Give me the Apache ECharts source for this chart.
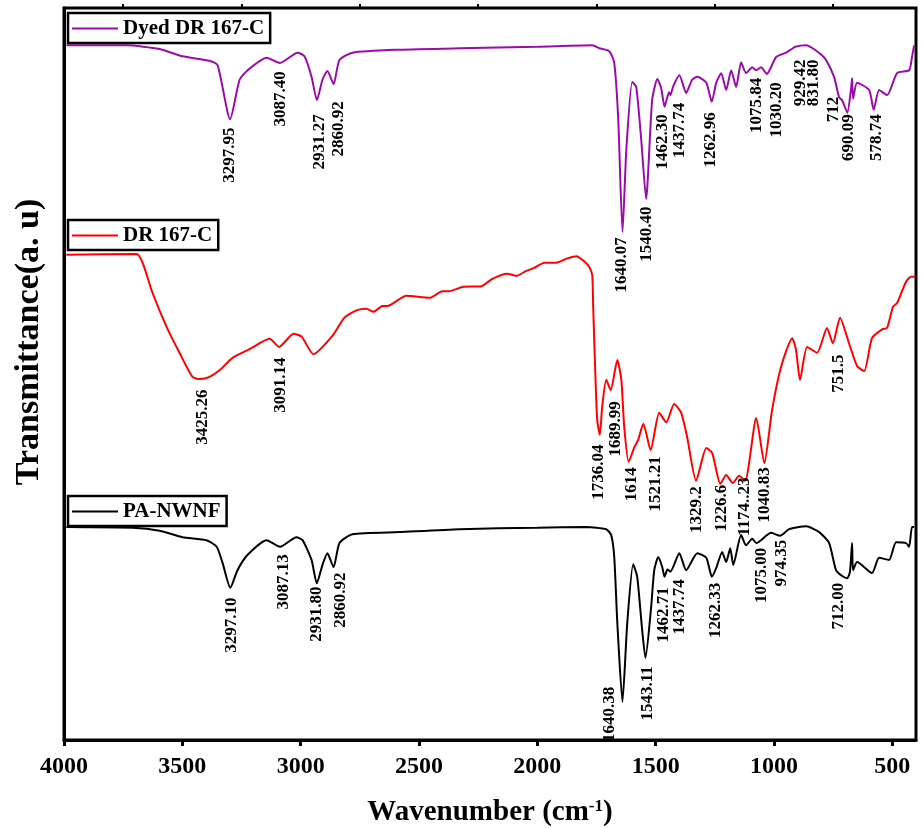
<!DOCTYPE html>
<html>
<head>
<meta charset="utf-8">
<script src="https://cdn.jsdelivr.net/npm/echarts@6/dist/echarts.min.js"></script>
<style>
  html, body { margin: 0; padding: 0; background: #fff; }
  #chart { width: 921px; height: 828px; }
</style>
</head>
<body>
<div id="chart"></div>
<script>
// FTIR spectra: [wavenumber (cm-1), transmittance (a.u., offset per trace)]
const dyedSpectrum = [
  [3990,94.9],[3735,94.9],[3596,94.4],[3499,93.4],[3385,92.8],[3351,92.2],[3297.95,84.8],[3258,90.2],
  [3224,91.5],[3144,93.2],[3087.4,92.5],[3013,93.9],[2984,93.4],[2954,90.6],[2931.27,87.4],[2908,90.2],
  [2887,91.4],[2860.92,89.6],[2836,92.9],[2781,93.9],[2583,94.3],[2329,94.5],[2000,94.7],[1768,94.9],
  [1738,94.5],[1696,94.1],[1675,92.5],[1658,84.7],[1640.07,69.4],[1624,80.6],[1599,89.9],[1582,89.2],
  [1561,82.0],[1540.4,73.9],[1515,87.4],[1493,90.3],[1477,89.1],[1462.3,86.5],[1451,87.8],[1443,88.5],
  [1437.74,88.1],[1426,89.3],[1400,90.8],[1371,88.4],[1346,90.2],[1324,90.6],[1286,89.8],[1262.96,87.2],
  [1244,89.8],[1223,91.1],[1202,88.8],[1181,91.5],[1160,89.2],[1139,92.6],[1118,91.1],[1092,91.9],
  [1075.84,91.5],[1055,91.9],[1030.2,91.0],[991,93.3],[949,93.9],[929.42,94.3],[910,94.7],[864,94.9],
  [831.8,94.4],[800,93.6],[780,92.9],[746,90.6],[725,87.8],[712,87.4],[690.09,85.7],[674,89.1],
  [670,90.4],[666,87.6],[649,89.8],[598,88.8],[578.74,86.1],[556,88.8],[522,88.1],[480,91.1],
  [429,91.5],[417,93.3],[408,94.9]
];
const dr167Spectrum = [
  [3990,66.3],[3693,66.4],[3668,65.2],[3626,61.1],[3566,56.4],[3512,52.9],[3457,49.6],[3425.26,49.3],
  [3385,49.6],[3343,50.5],[3288,52.2],[3216,53.4],[3131,54.8],[3091.14,53.7],[3030,55.5],[2996,55.1],
  [2946,52.7],[2866,55.2],[2815,57.7],[2764,58.7],[2722,58.9],[2692,58.5],[2654,59.3],[2633,59.3],
  [2553,60.7],[2456,60.4],[2401,61.3],[2372,61.3],[2317,61.9],[2236,62.0],[2190,63.0],[2127,63.7],
  [2089,63.4],[2046,64.1],[2013,64.5],[1970,65.2],[1920,65.2],[1873,65.8],[1835,66.1],[1802,65.4],
  [1780,64.6],[1768,63.5],[1764,59.2],[1755,50.1],[1747,43.7],[1736.04,41.7],[1726,45.5],[1709,49.2],
  [1689.99,47.8],[1662,51.9],[1645,49.2],[1633,42.8],[1614,38.0],[1590,40.0],[1574,41.0],[1552,43.2],
  [1521.21,39.6],[1485,44.7],[1455,43.4],[1422,45.9],[1392,44.7],[1367,41.4],[1329.2,35.4],[1286,39.9],
  [1261,39.2],[1226.6,35.0],[1202,36.2],[1174.23,35.1],[1147,36.1],[1122,35.4],[1075,44.0],[1040.83,37.8],
  [1008,45.1],[970,51.0],[923,54.9],[907,53.3],[890,49.2],[860,53.7],[818,52.9],[776,56.3],
  [751.5,54.2],[721,57.7],[683,54.2],[649,51.1],[619,50.4],[586,54.9],[543,56.1],[522,56.3],
  [497,59.2],[480,59.7],[442,62.6],[421,63.3],[404,63.3]
];
const panwnfSpectrum = [
  [3990,29.1],[3710,29.0],[3596,28.6],[3499,27.7],[3398,27.3],[3355,26.4],[3330,24.2],[3297.1,20.8],
  [3267,23.2],[3224,25.3],[3144,27.3],[3087.13,26.4],[3018,27.7],[2992,27.3],[2954,24.6],[2931.8,21.4],
  [2908,23.9],[2887,25.5],[2860.92,23.6],[2836,26.9],[2781,28.1],[2583,28.4],[2329,28.8],[2000,29.0],
  [1793,29.1],[1709,28.8],[1688,28.0],[1675,25.0],[1662,16.0],[1640.38,5.2],[1620,16.0],[1595,24.0],
  [1578,22.3],[1557,15.0],[1543.11,11.2],[1519,18.2],[1506,23.2],[1489,25.0],[1472,23.6],[1462.71,22.3],
  [1450,23.3],[1437.74,23.0],[1400,25.5],[1371,23.2],[1324,25.5],[1286,24.9],[1262.33,22.3],[1244,23.5],
  [1219,25.7],[1202,24.3],[1185,26.2],[1172,23.9],[1139,28.0],[1118,26.6],[1092,27.5],[1075,26.9],
  [1012,28.3],[974.35,27.9],[936,28.8],[864,29.2],[809,28.4],[767,26.9],[738,23.2],[712,22.4],
  [690,22.1],[679,23.0],[670,26.9],[666,23.2],[649,24.3],[586,22.8],[556,24.9],[514,24.6],
  [484,27.0],[442,26.9],[429,26.4],[417,29.1],[408,29.1]
];

// Peak annotations: [text, wavenumber where the text sits, transmittance at the text's top]
const dyedPeakNotes = [
  ['3297.95',3298,83.6],['3087.40',3081,91.3],['2931.27',2916,85.4],['2860.92',2836,87.2],
  ['1640.07',1641,68.6],['1540.40',1536,72.8],['1462.30',1468,85.4],['1437.74',1396,87.0],
  ['1262.96',1265,85.7],['1075.84',1071,90.4],['1030.20',987,89.8],['929.42',885,92.9],
  ['831.80',831,92.9],['712',746,87.8],['690.09',683,85.4],['578.74',565,85.4]
];
const dr167PeakNotes = [
  ['3425.26',3414,47.8],['3091.14',3081,52.2],['1736.04',1738,40.3],['1689.99',1666,46.2],
  ['1614',1599,37.2],['1521.21',1498,38.7],['1329.2',1324,34.6],['1226.6',1219,34.8],
  ['1174..23',1122,35.8],['1040.83',1037,37.2],['751.5',725,52.6]
];
const panwnfPeakNotes = [
  ['3297.10',3288,19.4],['3087.13',3068,25.3],['2931.80',2929,20.9],['2860.92',2828,22.8],
  ['1640.38',1692,7.2],['1543.11',1531,10.0],['1462.71',1464,20.8],['1437.74',1396,21.9],
  ['1262.33',1244,21.4],['1075.00',1050,26.2],['974.35',966,27.3],['712.00',725,21.4]
];

const seriesNames = ['Dyed DR 167-C', 'DR 167-C', 'PA-NWNF'];
const seriesColors = ['#9b0bab', '#ff0000', '#000000'];
const xMajorTicks = [4000, 3500, 3000, 2500, 2000, 1500, 1000, 500];
const xMinorTicks = [3750, 3250, 2750, 2250, 1750, 1250, 750];

const FONT = '"Liberation Serif", "Times New Roman", serif';

function spectrumSeries(name, color, data) {
  return {
    type: 'line', name, data, xAxisIndex: 0, yAxisIndex: 0,
    symbol: 'none', showSymbol: false, smooth: 0.2,
    lineStyle: { color, width: 2 }, itemStyle: { color },
    z: 3
  };
}

function noteSeries(notes) {
  return {
    type: 'scatter', xAxisIndex: 0, yAxisIndex: 0, silent: true,
    symbolSize: 1, itemStyle: { color: 'rgba(0,0,0,0)' },
    data: notes.map(n => ({ name: n[0], value: [n[1], n[2]] })),
    label: {
      show: true, position: [0, 0], rotate: 90, align: 'right', verticalAlign: 'middle',
      formatter: p => p.name,
      fontFamily: FONT, fontWeight: 'bold', fontSize: 17, color: '#000',
      textBorderWidth: 0, opacity: 1
    },
    z: 4
  };
}

const legendCommon = {
  left: 68, itemWidth: 46, itemHeight: 2, icon: 'rect', selectedMode: false,
  borderColor: '#000', borderWidth: 2.5, padding: [5, 6, 4, 4],
  textStyle: { fontFamily: FONT, fontWeight: 'bold', fontSize: 21, color: '#000' }
};

const chart = echarts.init(document.getElementById('chart'));
chart.setOption({
  animation: false,
  backgroundColor: '#fff',
  grid: {
    left: 64, right: 5, top: 8, bottom: 88, outerBoundsMode: 'none',
    show: true, borderColor: '#000', borderWidth: 3
  },
  legend: [
    Object.assign({ data: [seriesNames[0]], top: 13 }, legendCommon),
    Object.assign({ data: [seriesNames[1]], top: 220 }, legendCommon),
    Object.assign({ data: [seriesNames[2]], top: 496 }, legendCommon)
  ],
  xAxis: [
    {
      type: 'value', min: 400, max: 4000, inverse: true,
      axisLine: { show: true, lineStyle: { color: '#000', width: 3 } },
      axisTick: { show: true, length: 6, customValues: xMajorTicks, lineStyle: { color: '#000', width: 3 } },
      axisLabel: {
        customValues: xMajorTicks, formatter: v => String(v),
        fontFamily: FONT, fontWeight: 'bold', fontSize: 24, color: '#000', margin: 15
      },
      splitLine: { show: false },
      name: '{t|Wavenumber (cm}{s|-1}{t|)}',
      nameLocation: 'middle', nameGap: 58,
      nameTextStyle: {
        rich: {
          t: { fontFamily: FONT, fontWeight: 'bold', fontSize: 29, color: '#000' },
          s: { fontFamily: FONT, fontWeight: 'bold', fontSize: 17, color: '#000', verticalAlign: 'top', padding: [0, 0, 10, 0] }
        }
      }
    },
    {
      type: 'value', min: 400, max: 4000, inverse: true,
      axisLine: { show: false },
      axisTick: { show: true, length: 4, customValues: xMinorTicks, lineStyle: { color: '#000', width: 2 } },
      axisLabel: { show: false },
      splitLine: { show: false }
    }
  ],
  yAxis: {
    type: 'value', min: 0, max: 100,
    axisLine: { show: true, lineStyle: { color: '#000', width: 3 } },
    axisTick: { show: false }, axisLabel: { show: false }, splitLine: { show: false },
    name: 'Transmittance(a. u)', nameLocation: 'middle', nameGap: 18,
    nameTextStyle: { fontFamily: FONT, fontWeight: 'bold', fontSize: 34, color: '#000', padding: [0, 0, 0, 64] }
  },
  series: [
    spectrumSeries(seriesNames[0], seriesColors[0], dyedSpectrum),
    spectrumSeries(seriesNames[1], seriesColors[1], dr167Spectrum),
    spectrumSeries(seriesNames[2], seriesColors[2], panwnfSpectrum),
    noteSeries(dyedPeakNotes),
    noteSeries(dr167PeakNotes),
    noteSeries(panwnfPeakNotes)
  ]
});
</script>
</body>
</html>
